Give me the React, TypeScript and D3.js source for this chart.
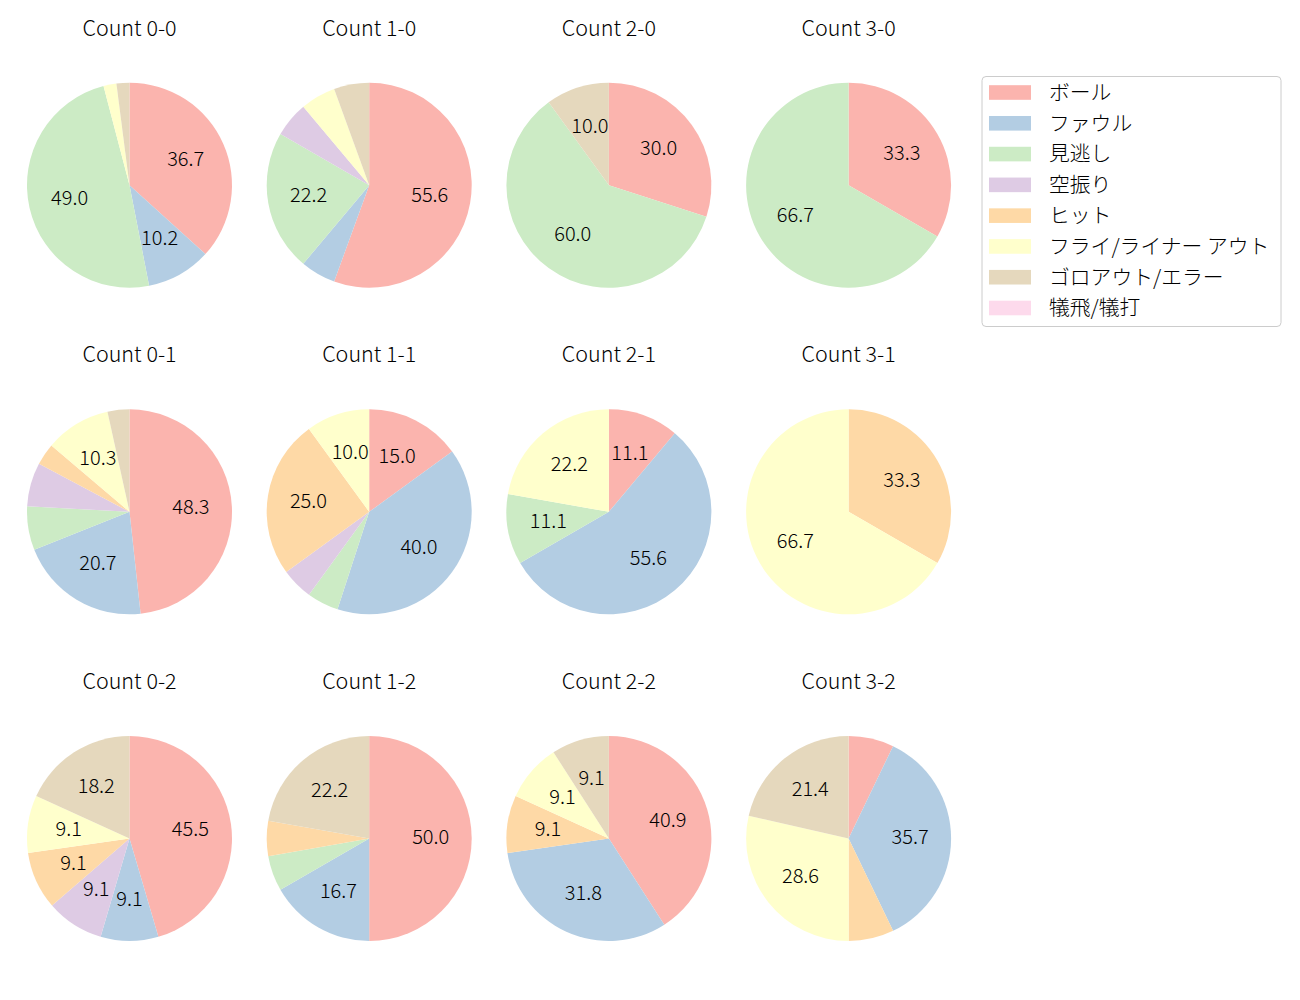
import React from "react";
import * as d3 from "d3";

// Categories (legend order) and Pastel1 colours
const categories = [
  "ボール",
  "ファウル",
  "見逃し",
  "空振り",
  "ヒット",
  "フライ/ライナー アウト",
  "ゴロアウト/エラー",
  "犠飛/犠打",
];
const colors = ["#fbb4ae", "#b3cde3", "#ccebc5", "#decbe4", "#fed9a6", "#ffffcc", "#e5d8bd", "#fddaec"];

// Pie titles (ball-strike counts), row-major
const countLabels = ["0-0", "1-0", "2-0", "3-0", "0-1", "1-1", "2-1", "3-1", "0-2", "1-2", "2-2", "3-2"];

// Pitch outcome counts per ball-strike count, in category order
const c00 = [18, 5, 24, 0, 0, 1, 1, 0];
const c10 = [10, 1, 4, 1, 0, 1, 1, 0];
const c20 = [3, 0, 6, 0, 0, 0, 1, 0];
const c30 = [1, 0, 2, 0, 0, 0, 0, 0];
const c01 = [14, 6, 2, 2, 1, 3, 1, 0];
const c11 = [3, 8, 1, 1, 5, 2, 0, 0];
const c21 = [1, 5, 1, 0, 0, 2, 0, 0];
const c31 = [0, 0, 0, 0, 1, 2, 0, 0];
const c02 = [5, 1, 0, 1, 1, 1, 2, 0];
const c12 = [9, 3, 1, 0, 1, 0, 4, 0];
const c22 = [9, 7, 0, 0, 2, 2, 2, 0];
const c32 = [1, 5, 0, 0, 1, 4, 3, 0];

const series = [c00, c10, c20, c30, c01, c11, c21, c31, c02, c12, c22, c32];

const FONT = "'Noto Sans CJK JP', 'Noto Sans', sans-serif";

export default function App() {
  const W = 1300;
  const H = 1000;
  const colX = d3.scaleLinear().domain([0, 3]).range([129.5, 848.6]);
  const rowY = d3.scaleLinear().domain([0, 2]).range([185.2, 838.5]);
  const r = 102.5;
  const titleOffset = 149.5;
  const pie = d3
    .pie<number>()
    .sort(null)
    .value((d) => d)
    .startAngle(0)
    .endAngle(2 * Math.PI);
  const arc = d3.arc<d3.PieArcDatum<number>>().innerRadius(0).outerRadius(r);
  const labelArc = d3.arc<d3.PieArcDatum<number>>().innerRadius(0).outerRadius(r * 1.2);

  const legendY = d3.scaleLinear().domain([0, 7]).range([92.5, 308]);

  return (
    <svg
      width={W}
      height={H}
      style={{ position: "absolute", left: 0, top: 0, background: "#fff" }}
      fontFamily={FONT}
      fontWeight={300}
    >
      <rect x={0} y={0} width={W} height={H} fill="#fff" />
      {series.map((vals, i) => {
        const col = i % 4;
        const row = Math.floor(i / 4);
        const cx = colX(col);
        const cy = rowY(row);
        const total = d3.sum(vals);
        const arcs = pie(vals);
        return (
          <g key={i}>
            <text
              x={cx}
              y={cy - titleOffset}
              textAnchor="middle"
              fontSize={21.5}
              fill="#000"
            >
              {"Count " + countLabels[i]}
            </text>
            <g transform={`translate(${cx},${cy})`}>
              {arcs.map((a, j) =>
                a.value > 0 ? <path key={j} d={arc(a) || ""} fill={colors[j]} /> : null
              )}
              {arcs.map((a, j) => {
                const pct = (a.value / total) * 100;
                if (pct < 8) return null;
                const [lx, ly] = labelArc.centroid(a);
                return (
                  <text
                    key={"t" + j}
                    x={lx}
                    y={ly}
                    dy="-0.13em"
                    textAnchor="middle"
                    dominantBaseline="central"
                    fontSize={20}
                    fill="#000"
                  >
                    {pct.toFixed(1)}
                  </text>
                );
              })}
            </g>
          </g>
        );
      })}
      <g>
        <rect
          x={982}
          y={76.5}
          width={299}
          height={250}
          rx={4}
          fill="#fff"
          fillOpacity={0.8}
          stroke="#cccccc"
          strokeWidth={1}
        />
        {categories.map((c, i) => (
          <g key={c}>
            <rect x={989} y={legendY(i) - 7.3} width={42} height={14.6} fill={colors[i]} />
            <text
              x={1049}
              y={legendY(i)}
              dy="-0.08em"
              dominantBaseline="central"
              fontSize={20.8}
              fill="#000"
            >
              {c}
            </text>
          </g>
        ))}
      </g>
    </svg>
  );
}
